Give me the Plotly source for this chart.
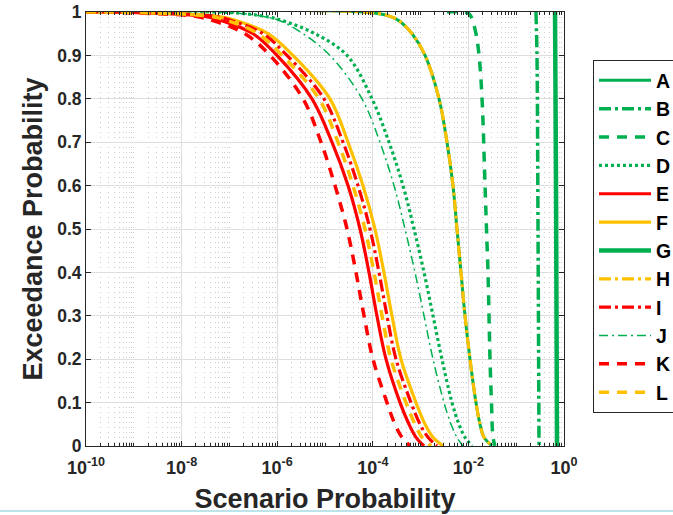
import plotly.graph_objects as go

GREEN = "#00B050"
RED = "#FF0000"
YELLOW = "#FFC000"

# ---- data (scenario probability -> exceedance probability) ----
a_x = [1e-10, 8.74e-5, 2.29e-4, 3.53e-4, 6.61e-4, 1.24e-3, 2.43e-3, 3.57e-3, 4.76e-3, 5.77e-3, 7.00e-3, 8.49e-3, 1.08e-2, 1.44e-2, 1.75e-2, 2.12e-2, 3.12e-2]
a_y = [1.0, 0.999, 0.99, 0.98, 0.95, 0.9, 0.8, 0.7, 0.6, 0.5, 0.4, 0.3, 0.2, 0.1, 0.05, 0.02, 0.0]

b_x = [0.259, 0.272, 0.286, 0.300]
b_y = [1.0, 0.9, 0.5, 0.0]

c_x = [3.57e-3, 9.35e-3, 1.13e-2, 1.44e-2, 1.67e-2, 1.93e-2, 2.23e-2, 2.39e-2, 2.57e-2, 2.83e-2, 3.04e-2, 3.27e-2, 3.60e-2]
c_y = [1.0, 0.999, 0.99, 0.95, 0.9, 0.8, 0.6, 0.5, 0.4, 0.2, 0.1, 0.02, 0.0]

d_x = [1e-10, 9.35e-8, 5.56e-7, 1.32e-6, 6.18e-6, 2.89e-5, 9.62e-5, 2.18e-4, 4.28e-4, 7.28e-4, 1.18e-3, 1.82e-3, 2.80e-3, 4.54e-3, 6.36e-3, 8.49e-3, 1.19e-2]
d_y = [1.0, 0.999, 0.99, 0.98, 0.95, 0.9, 0.8, 0.7, 0.6, 0.5, 0.4, 0.3, 0.2, 0.1, 0.05, 0.02, 0.0]

e_x = [1e-10, 1e-9, 3.09e-8, 7.00e-8, 3.12e-7, 9.90e-7, 5.35e-6, 1.40e-5, 3.03e-5, 5.40e-5, 8.33e-5, 1.22e-4, 1.89e-4, 3.71e-4, 5.72e-4, 8.01e-4, 1.18e-3]
e_y = [1.0, 0.999, 0.99, 0.98, 0.95, 0.9, 0.8, 0.7, 0.6, 0.5, 0.4, 0.3, 0.2, 0.1, 0.05, 0.02, 0.0]

f_x = [1e-10, 1e-9, 5.77e-8, 1.44e-7, 6.42e-7, 2.14e-6, 1.27e-5, 3.03e-5, 6.24e-5, 1.11e-4, 1.71e-4, 2.52e-4, 3.89e-4, 8.01e-4, 1.24e-3, 1.82e-3, 2.94e-3]
f_y = [1.0, 0.999, 0.99, 0.98, 0.95, 0.9, 0.8, 0.7, 0.6, 0.5, 0.4, 0.3, 0.2, 0.1, 0.05, 0.02, 0.0]

g_x = [0.649, 0.681, 0.714]
g_y = [1.0, 0.6, 0.0]

h_x = [1e-10, 8.74e-5, 2.29e-4, 3.53e-4, 6.61e-4, 1.24e-3, 2.43e-3, 3.57e-3, 4.76e-3, 5.77e-3, 7.00e-3, 8.49e-3, 1.08e-2, 1.44e-2, 1.75e-2, 2.12e-2, 3.12e-2]
h_y = [1.0, 0.999, 0.99, 0.98, 0.95, 0.9, 0.8, 0.7, 0.6, 0.5, 0.4, 0.3, 0.2, 0.1, 0.05, 0.02, 0.0]

i_x = [1e-10, 1e-9, 4.76e-8, 1.13e-7, 5.05e-7, 1.60e-6, 9.53e-6, 2.38e-5, 4.90e-5, 8.74e-5, 1.35e-4, 1.98e-4, 3.06e-4, 6.30e-4, 9.72e-4, 1.43e-3, 2.20e-3]
i_y = [1.0, 0.999, 0.99, 0.98, 0.95, 0.9, 0.8, 0.7, 0.6, 0.5, 0.4, 0.3, 0.2, 0.1, 0.05, 0.02, 0.0]

j_x = [1e-10, 9.35e-8, 4.81e-7, 1.14e-6, 3.47e-6, 1.27e-5, 5.94e-5, 1.41e-4, 2.78e-4, 4.72e-4, 7.64e-4, 1.18e-3, 1.82e-3, 3.09e-3, 4.33e-3, 5.77e-3, 7.71e-3]
j_y = [1.0, 0.999, 0.99, 0.98, 0.95, 0.9, 0.8, 0.7, 0.6, 0.5, 0.4, 0.3, 0.2, 0.1, 0.05, 0.02, 0.0]

k_x = [1e-10, 1e-9, 1.91e-8, 4.54e-8, 2.12e-7, 7.07e-7, 3.47e-6, 8.25e-6, 1.62e-5, 2.89e-5, 4.45e-5, 6.55e-5, 1.01e-4, 1.98e-4, 2.91e-4, 4.08e-4, 6.00e-4]
k_y = [1.0, 0.998, 0.99, 0.98, 0.95, 0.9, 0.8, 0.7, 0.6, 0.5, 0.4, 0.3, 0.2, 0.1, 0.05, 0.02, 0.0]

l_x = [1e-10, 1e-9, 3.93e-8, 9.35e-8, 3.97e-7, 1.26e-6, 7.49e-6, 1.87e-5, 3.85e-5, 6.87e-5, 1.06e-4, 1.56e-4, 2.40e-4, 4.95e-4, 7.64e-4, 1.07e-3, 1.65e-3]
l_y = [1.0, 0.999, 0.99, 0.98, 0.95, 0.9, 0.8, 0.7, 0.6, 0.5, 0.4, 0.3, 0.2, 0.1, 0.05, 0.02, 0.0]

names = ["A", "B", "C", "D", "E", "F", "G", "H", "I", "J", "K", "L"]
xs = [a_x, b_x, c_x, d_x, e_x, f_x, g_x, h_x, i_x, j_x, k_x, l_x]
ys = [a_y, b_y, c_y, d_y, e_y, f_y, g_y, h_y, i_y, j_y, k_y, l_y]

x_tick_vals = [1e-10, 1e-8, 1e-6, 1e-4, 1e-2, 1]
x_tick_text = ["10<sup>-10</sup>", "10<sup>-8</sup>", "10<sup>-6</sup>", "10<sup>-4</sup>", "10<sup>-2</sup>", "10<sup>0</sup>"]

DASHDOT = "12px,4px,3px,4px"
styles = {
    "A": dict(color=GREEN, width=3, dash="solid"),
    "B": dict(color=GREEN, width=3.5, dash=DASHDOT),
    "C": dict(color=GREEN, width=3.5, dash="10px,8px"),
    "D": dict(color=GREEN, width=3.2, dash="3px,3px"),
    "E": dict(color=RED, width=3.2, dash="solid"),
    "F": dict(color=YELLOW, width=3.2, dash="solid"),
    "G": dict(color=GREEN, width=4.5, dash="solid"),
    "H": dict(color=YELLOW, width=3.2, dash=DASHDOT),
    "I": dict(color=RED, width=3.2, dash=DASHDOT),
    "J": dict(color=GREEN, width=1.5, dash="9px,4px,2px,4px"),
    "K": dict(color=RED, width=3.5, dash="10px,8px"),
    "L": dict(color=YELLOW, width=3.5, dash="10px,8px"),
}

fig = go.Figure()
for n, x, y in zip(names, xs, ys):
    fig.add_trace(go.Scatter(x=x, y=y, name=n, mode="lines",
                             line=dict(shape="spline", smoothing=1.0, **styles[n])))

minor_vals = [k * 10.0 ** d for d in range(-10, 0) for k in range(1, 10)]
minor_vals = [v for v in minor_vals if all(abs(v - t) / t > 1e-6 for t in x_tick_vals)]

AX = "#262626"
fig.update_layout(
    width=673, height=515,
    margin=dict(l=86, r=109, t=12, b=69, autoexpand=False),
    paper_bgcolor="white", plot_bgcolor="white",
    font=dict(family="Liberation Sans, Arial, sans-serif", size=17, color=AX, weight="bold"),
    showlegend=True,
    legend=dict(x=1.0607, y=0.889, xanchor="left", yanchor="top",
                bordercolor="#262626", borderwidth=1, bgcolor="white",
                font=dict(size=19.5, color="black", weight="bold"),
                itemwidth=52, tracegroupgap=0),
    xaxis=dict(type="log", range=[-10, 0], tickvals=x_tick_vals, ticktext=x_tick_text,
               showline=True, linecolor=AX, linewidth=1, mirror="ticks",
               ticks="inside", ticklen=5, tickcolor=AX, ticklabelstandoff=5,
               showgrid=True, gridcolor="#dedede", gridwidth=1, zeroline=False,
               tickfont=dict(size=18, color=AX),
               minor=dict(tickmode="array", tickvals=minor_vals, showgrid=True,
                          gridcolor="#cccccc", griddash="1px,4px", gridwidth=1,
                          ticks="inside", ticklen=3, tickcolor=AX),
               title=dict(text="Scenario Probability", font=dict(size=27, color=AX, weight="bold"), standoff=12)),
    yaxis=dict(range=[0, 1], dtick=0.1, tick0=0,
               showline=True, linecolor=AX, linewidth=1, mirror="ticks",
               ticks="inside", ticklen=5, tickcolor=AX,
               showgrid=True, gridcolor="#dedede", gridwidth=1, zeroline=False,
               tickfont=dict(size=17.5, color=AX),
               title=dict(text="Exceedance Probability", font=dict(size=27, color=AX, weight="bold"), standoff=6)),
    shapes=[dict(type="line", xref="paper", yref="paper", x0=-0.2, x1=1.3, y0=-0.1497, y1=-0.1497,
                 line=dict(color="#a8dbe4", width=1.5))],
)

fig.write_html("out.html")
